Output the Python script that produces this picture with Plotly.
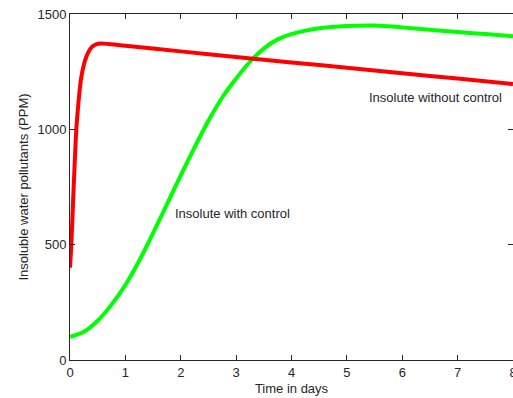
import plotly.graph_objects as go

# Time axis (days) and pollutant concentration (PPM)
t_without = [0, 0.024, 0.054, 0.085, 0.114, 0.14, 0.17, 0.2, 0.25, 0.3, 0.35, 0.4,
             0.47, 0.55, 0.7, 1, 2, 3, 4, 5, 6, 7, 8]
ppm_without = [400, 500, 680, 854, 1000, 1080, 1160, 1220, 1280, 1318, 1343, 1358,
               1368, 1372, 1370, 1362, 1338, 1314, 1290, 1267, 1243, 1220, 1196]

t_with = [0, 0.25, 0.5, 0.75, 1, 1.25, 1.5, 1.75, 2, 2.25, 2.5, 2.75, 3, 3.25, 3.5,
          3.75, 4, 4.5, 5, 5.5, 6, 6.5, 7, 7.5, 8]
ppm_with = [100, 122, 170, 240, 325, 430, 550, 675, 800, 922, 1037, 1138, 1220, 1293,
            1350, 1390, 1413, 1438, 1448, 1450, 1442, 1432, 1422, 1413, 1404]

label_without = "Insolute without control"
label_with = "Insolute with control"

FONT = "Liberation Sans, Arial, sans-serif"
AX = "#262626"
TXT = "#262626"

fig = go.Figure()
fig.add_trace(go.Scatter(x=t_with, y=ppm_with, mode="lines",
                         line=dict(color="#00ff00", width=4, shape="spline", smoothing=1),
                         showlegend=False))
fig.add_trace(go.Scatter(x=t_without, y=ppm_without, mode="lines",
                         line=dict(color="#ff0000", width=4, shape="spline", smoothing=0.8),
                         showlegend=False))

fig.add_annotation(x=5.37, y=1136, text=label_without, showarrow=False,
                   xanchor="left", yanchor="middle",
                   font=dict(family=FONT, size=13, color=TXT))
fig.add_annotation(x=1.86, y=637, text=label_with, showarrow=False,
                   xanchor="left", yanchor="middle",
                   font=dict(family=FONT, size=13, color=TXT))

axis_common = dict(showline=True, linecolor=AX, linewidth=1, mirror="ticks",
                   ticks="inside", ticklen=5, tickcolor=AX, showgrid=False,
                   zeroline=False, ticklabeloverflow="allow", automargin=False,
                   tickfont=dict(family=FONT, size=13, color=TXT))

fig.update_xaxes(range=[0, 8], dtick=1, title=dict(text="Time in days", standoff=5,
                 font=dict(family=FONT, size=13, color=TXT)), **axis_common)
fig.update_yaxes(range=[0, 1500], dtick=500, title=dict(text="Insoluble water pollutants (PPM)",
                 standoff=5, font=dict(family=FONT, size=13, color=TXT)), **axis_common)

fig.update_layout(width=513, height=398, margin=dict(l=70, r=0, t=14, b=38, autoexpand=False),
                  plot_bgcolor="white", paper_bgcolor="white")

fig.write_html("out.html")
